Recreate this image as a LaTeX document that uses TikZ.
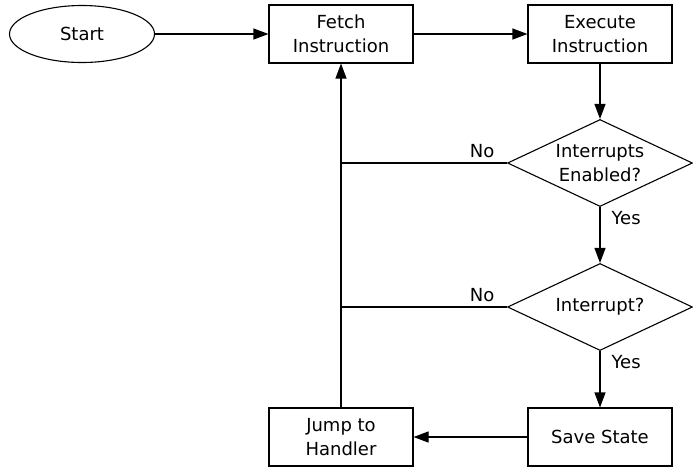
\documentclass[tikz,border=0pt]{standalone}
\usepackage{fontspec}
\setmainfont{DejaVu Sans}
\usetikzlibrary{arrows.meta,shapes.geometric}

\begin{document}
\begin{tikzpicture}[x=1pt, y=-1pt, >={Triangle[length=15pt,width=11pt]}, line width=1.1pt,
  font=\fontsize{18}{24}\selectfont,
  procbox/.style={draw, rectangle, minimum width=144pt, minimum height=58pt, inner sep=0pt, align=center},
  termnode/.style={draw, ellipse, minimum width=145pt, minimum height=57pt, inner sep=0pt},
  decide/.style={draw, diamond, shape aspect=2.14, minimum width=185pt, minimum height=87pt, inner sep=0pt, align=center},
  lbl/.style={inner sep=0pt}]
  \useasboundingbox (0,0) rectangle (693,467);

  % blocks
  \node[termnode] (start)   at (82,34)   {Start};
  \node[procbox]  (fetch)   at (341,34)  {Fetch\\Instruction};
  \node[procbox]  (exec)    at (600,34)  {Execute\\Instruction};
  \node[decide]   (enabled) at (600,163) {Interrupts\\Enabled?};
  \node[decide]   (irq)     at (600,307) {Interrupt?};
  \node[procbox]  (save)    at (600,437) {Save State};
  \node[procbox]  (jump)    at (341,437) {Jump to\\Handler};

  % main flow
  \draw[->] (start) -- (fetch);
  \draw[->] (fetch) -- (exec);
  \draw[->] (exec) -- (enabled);
  \draw[->] (enabled) -- node[lbl, pos=0.19, anchor=west, xshift=11pt] {Yes} (irq);
  \draw[->] (irq) -- node[lbl, pos=0.2, anchor=west, xshift=11pt] {Yes} (save);
  \draw[->] (save) -- (jump);

  % back to fetch
  \draw (enabled.west) -- node[lbl, pos=0.15, above=5pt] {No} (enabled.west -| fetch.south);
  \draw (irq.west) -- node[lbl, pos=0.15, above=5pt] {No} (irq.west -| fetch.south);
  \draw[->] (jump) -- (fetch);
\end{tikzpicture}
\end{document}
